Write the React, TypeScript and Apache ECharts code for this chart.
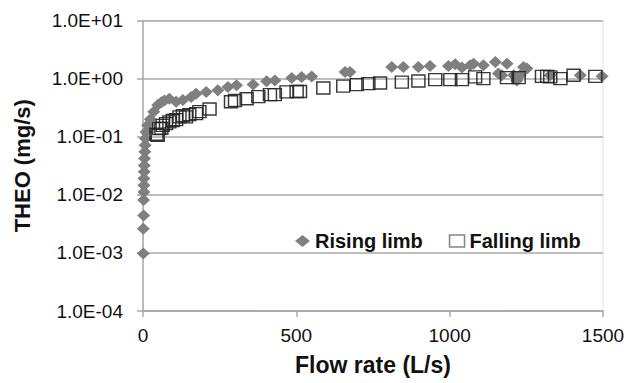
import React, { useEffect, useRef } from "react";
import * as echarts from "echarts";

const risingX = [1, 1, 2, 2, 3, 3, 3, 4, 4, 5, 6, 7, 8, 10, 15, 24, 35, 48, 60, 70, 86, 108, 130, 157, 173, 206, 244, 277, 305, 359, 403, 430, 485, 517, 550, 659, 675, 811, 849, 898, 936, 996, 1018, 1040, 1067, 1078, 1110, 1149, 1159, 1170, 1187, 1209, 1219, 1230, 1241, 1252, 1328, 1426, 1497];
const risingY = [0.00098, 0.0026, 0.0044, 0.0081, 0.0112, 0.0146, 0.019, 0.025, 0.032, 0.042, 0.055, 0.071, 0.093, 0.12, 0.158, 0.2, 0.27, 0.35, 0.39, 0.42, 0.45, 0.4, 0.43, 0.48, 0.55, 0.59, 0.63, 0.72, 0.77, 0.79, 0.9, 0.93, 1.02, 1.07, 1.09, 1.3, 1.3, 1.58, 1.58, 1.58, 1.65, 1.65, 1.76, 1.55, 1.69, 1.81, 1.69, 1.93, 1.22, 1.14, 1.81, 1.14, 0.93, 1.14, 1.58, 1.49, 1.14, 1.14, 1.1];

const fallingX = [44, 48, 53, 60, 64, 75, 86, 97, 108, 119, 130, 140, 151, 173, 184, 217, 287, 300, 338, 376, 414, 430, 468, 501, 512, 588, 653, 697, 735, 773, 844, 898, 953, 1002, 1040, 1083, 1110, 1187, 1225, 1301, 1318, 1328, 1361, 1404, 1475];
const fallingY = [0.11, 0.106, 0.138, 0.14, 0.157, 0.168, 0.18, 0.19, 0.197, 0.22, 0.23, 0.22, 0.24, 0.25, 0.27, 0.3, 0.4, 0.42, 0.45, 0.49, 0.53, 0.53, 0.59, 0.6, 0.6, 0.69, 0.74, 0.79, 0.82, 0.84, 0.87, 0.91, 0.96, 0.96, 0.96, 1.07, 1.0, 1.04, 1.04, 1.09, 1.09, 1.07, 1.0, 1.14, 1.09];

const seriesNames = ["Rising limb", "Falling limb"];
const xTicks = { min: 0, max: 1500, interval: 500 };
const yRange = { min: 0.0001, max: 10 };

const FONT = "'Liberation Sans', Arial, sans-serif";

function fmtExp(v: number): string {
  const e = Math.round(Math.log10(v));
  return "1.0E" + (e < 0 ? "-" : "+") + String(Math.abs(e)).padStart(2, "0");
}

export default function App() {
  const ref = useRef<HTMLDivElement>(null);
  useEffect(() => {
    if (!ref.current) return;
    const chart = echarts.init(ref.current, null, { renderer: "svg" });
    const gridColor = "#a8a8a8";
    chart.setOption({
      animation: false,
      backgroundColor: "#ffffff",
      grid: {
        left: 143,
        right: 31,
        top: 20.5,
        bottom: 72,
        show: true,
        borderColor: "#e2e2e2",
        borderWidth: 1,
        backgroundColor: "transparent",
      },
      legend: {
        left: 290,
        top: 226,
        itemWidth: 15,
        itemHeight: 12,
        itemGap: 26,
        textStyle: { fontFamily: FONT, fontSize: 20, fontWeight: "bold", color: "#111" },
        data: [
          { name: seriesNames[0], icon: "diamond", itemStyle: { color: "#7f7f7f" } },
          {
            name: seriesNames[1],
            icon: "rect",
            itemStyle: { color: "#ffffff", borderColor: "#777", borderWidth: 1.5 },
          },
        ],
      },
      xAxis: {
        type: "value",
        min: xTicks.min,
        max: xTicks.max,
        interval: xTicks.interval,
        name: "Flow rate (L/s)",
        nameLocation: "middle",
        nameGap: 42,
        nameTextStyle: { fontFamily: FONT, fontSize: 23, fontWeight: "bold", color: "#111" },
        axisLine: { show: true, lineStyle: { color: gridColor, width: 1.5 } },
        axisTick: { show: true, inside: false, length: 6, lineStyle: { color: gridColor, width: 1.5 } },
        axisLabel: { fontFamily: FONT, fontSize: 19, color: "#111", margin: 15, formatter: (v: number) => String(v) },
        splitLine: { show: false },
      },
      yAxis: {
        type: "log",
        logBase: 10,
        min: yRange.min,
        max: yRange.max,
        name: "THEO (mg/s)",
        nameLocation: "middle",
        nameGap: 110,
        nameRotate: 90,
        nameTextStyle: { fontFamily: FONT, fontSize: 22, fontWeight: "bold", color: "#111" },
        axisLine: { show: true, lineStyle: { color: gridColor, width: 1.5 } },
        axisTick: { show: true, inside: false, length: 6, lineStyle: { color: gridColor, width: 1.5 } },
        axisLabel: { fontFamily: FONT, fontSize: 19, color: "#111", margin: 20, formatter: fmtExp },
        splitLine: { show: true, lineStyle: { color: gridColor, width: 1.5 } },
        minorTick: { show: false },
      },
      series: [
        {
          name: seriesNames[0],
          type: "scatter",
          symbol: "diamond",
          symbolSize: [13, 12],
          itemStyle: { color: "#7f7f7f", opacity: 1 },
          data: risingX.map((x, i) => [x, risingY[i]]),
          z: 2,
        },
        {
          name: seriesNames[1],
          type: "scatter",
          symbol: "rect",
          symbolSize: [13, 12],
          itemStyle: { color: "rgba(255,255,255,0)", borderColor: "#222", borderWidth: 1.4, opacity: 0.9 },
          data: fallingX.map((x, i) => [x, fallingY[i]]),
          z: 3,
        },
      ],
    });
    return () => chart.dispose();
  }, []);
  return (
    <div
      ref={ref}
      style={{ position: "fixed", left: 0, top: 0, width: 634, height: 383, background: "#fff" }}
    />
  );
}
